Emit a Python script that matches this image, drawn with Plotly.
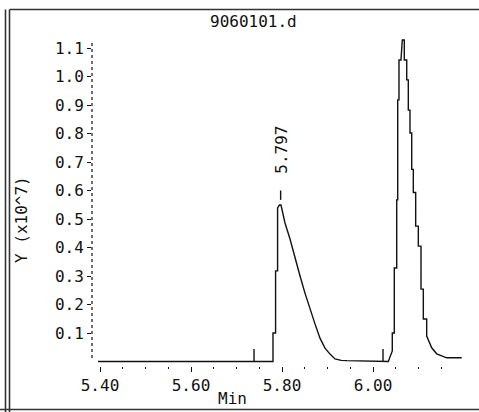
import plotly.graph_objects as go

# ---- data ----
times = [5.3956, 5.7802, 5.7802, 5.7859, 5.7859, 5.7903, 5.7903, 5.7943, 5.7978,
         5.8066, 5.8176, 5.8286, 5.8396, 5.8505, 5.8615, 5.8725, 5.8835, 5.8945,
         5.9055, 5.9165, 5.9300, 5.9430, 6.0336,
         6.0424, 6.0424, 6.0468, 6.0468, 6.0521, 6.0521, 6.0543, 6.0543, 6.0571,
         6.0571, 6.0615, 6.0644, 6.0688, 6.0688, 6.0741, 6.0741, 6.0776, 6.0776,
         6.0813, 6.0813, 6.0851, 6.0851, 6.0886, 6.0886, 6.0938, 6.0938, 6.0996,
         6.0996, 6.1055, 6.1055, 6.1106, 6.1106, 6.1180, 6.1180, 6.1290, 6.1400,
         6.1620, 6.1950]
intensity = [0.0, 0.0, 0.10, 0.10, 0.318, 0.318, 0.539, 0.549, 0.549,
             0.486, 0.430, 0.360, 0.300, 0.240, 0.184, 0.132, 0.082, 0.047,
             0.026, 0.009, 0.004, 0.003, 0.0,
             0.037, 0.10, 0.10, 0.328, 0.328, 0.567, 0.567, 0.918, 0.918,
             1.058, 1.058, 1.128, 1.128, 1.058, 1.058, 0.988, 0.988, 0.882,
             0.882, 0.802, 0.802, 0.674, 0.674, 0.593, 0.593, 0.475, 0.475,
             0.405, 0.405, 0.254, 0.254, 0.149, 0.149, 0.089, 0.048, 0.027,
             0.013, 0.013]

marker_times = [5.7385, 6.022]      # integration markers
marker_height = 0.044

peak_time = 5.797
peak_label = "5.797"
peak_value = 0.555

x_tickvals = [5.40, 5.60, 5.80, 6.00]
x_ticktext = ["5.40", "5.60", "5.80", "6.00"]
y_tickvals = [0.1, 0.2, 0.3, 0.4, 0.5, 0.6, 0.7, 0.8, 0.9, 1.0, 1.1]
y_ticktext = ["0.1", "0.2", "0.3", "0.4", "0.5", "0.6", "0.7", "0.8", "0.9", "1.0", "1.1"]

title_text = "9060101.d"
x_title = "Min"
y_title = "Y (x10^7)"

# ---- layout geometry (pixels) ----
W, H = 479, 412
L, R, T, B = 92, 463, 36, 366          # plot area edges
PX0, T0, PXPM = 100, 5.40, 455.0       # x pixel of 5.40, px per minute
PY0, PYPU = 361.5, 285.0               # y pixel of zero, px per unit

x_range = [T0 + (L - PX0) / PXPM, T0 + (R - PX0) / PXPM]
y_range = [(PY0 - B) / PYPU, (PY0 - T) / PYPU]

def px(xp):
    return (xp - L) / (R - L)

def py(yp):
    return (B - yp) / (B - T)

FONT = "DejaVu Sans Mono"
COL = "#111111"
FRAME = dict(color="#333333", width=1.6)

fig = go.Figure()
fig.add_trace(go.Scatter(x=times, y=intensity, mode="lines",
                         line=dict(color=COL, width=1.4), hoverinfo="skip",
                         showlegend=False))

mx, my = [], []
for t in marker_times:
    mx += [t, t, None]
    my += [0, marker_height, None]
fig.add_trace(go.Scatter(x=mx, y=my, mode="lines", line=dict(color=COL, width=1.4),
                         hoverinfo="skip", showlegend=False))

# peak label tick
fig.add_trace(go.Scatter(x=[peak_time, peak_time], y=[peak_value + 0.012, peak_value + 0.045],
                         mode="lines", line=dict(color=COL, width=1.4),
                         hoverinfo="skip", showlegend=False))

shapes = []
# dotted y axis
shapes.append(dict(type="line", xref="paper", yref="y", x0=0, x1=0,
                   y0=(PY0 - 358) / PYPU, y1=(PY0 - 40) / PYPU,
                   line=dict(color=COL, width=1.2, dash="dot")))
# outer double frame (left) and top / bottom rules
shapes.append(dict(type="line", xref="paper", yref="paper", x0=px(5.5), x1=px(5.5),
                   y0=py(9.5), y1=py(412), line=FRAME))
shapes.append(dict(type="line", xref="paper", yref="paper", x0=px(9.5), x1=px(9.5),
                   y0=py(9.5), y1=py(412), line=FRAME))
shapes.append(dict(type="line", xref="paper", yref="paper", x0=px(9.5), x1=px(479),
                   y0=py(9.5), y1=py(9.5), line=FRAME))
shapes.append(dict(type="line", xref="paper", yref="paper", x0=px(0), x1=px(479),
                   y0=py(409.5), y1=py(409.5), line=FRAME))

annotations = [
    dict(text=title_text, xref="paper", yref="paper", x=px(253), y=py(22),
         showarrow=False, xanchor="center", yanchor="middle",
         font=dict(family=FONT, size=16, color=COL)),
    dict(text=x_title, xref="paper", yref="paper", x=px(232), y=py(398),
         showarrow=False, xanchor="center", yanchor="middle",
         font=dict(family=FONT, size=16, color=COL)),
    dict(text=y_title, xref="paper", yref="paper", x=px(21), y=py(220),
         showarrow=False, xanchor="center", yanchor="middle", textangle=-90,
         font=dict(family=FONT, size=16, color=COL)),
    dict(text=peak_label, xref="x", yref="y", x=peak_time, y=0.742,
         showarrow=False, xanchor="center", yanchor="middle", textangle=-90,
         font=dict(family=FONT, size=16, color=COL)),
]

fig.update_layout(
    width=W, height=H,
    margin=dict(l=L, r=W - R, t=T, b=H - B, pad=0),
    paper_bgcolor="white", plot_bgcolor="white",
    shapes=shapes, annotations=annotations,
    xaxis=dict(range=x_range, showgrid=False, zeroline=False, showline=False,
               tickmode="array", tickvals=x_tickvals, ticktext=x_ticktext,
               ticks="outside", ticklen=5, tickwidth=1.2, tickcolor=COL,
               minor=dict(dtick=0.05, tick0=5.40, ticks="outside", ticklen=2,
                          tickwidth=1.2, tickcolor=COL, showgrid=False),
               tickfont=dict(family=FONT, size=16, color=COL)),
    yaxis=dict(range=y_range, showgrid=False, zeroline=False, showline=False,
               tickmode="array", tickvals=y_tickvals, ticktext=y_ticktext,
               ticks="outside", ticklen=4, tickwidth=1.2, tickcolor=COL,
               tickfont=dict(family=FONT, size=16, color=COL)),
)

fig.write_html("out.html", config={"displayModeBar": False},
               post_script="document.documentElement.style.overflow='hidden';document.body.style.margin='0';document.body.style.overflow='hidden';")
